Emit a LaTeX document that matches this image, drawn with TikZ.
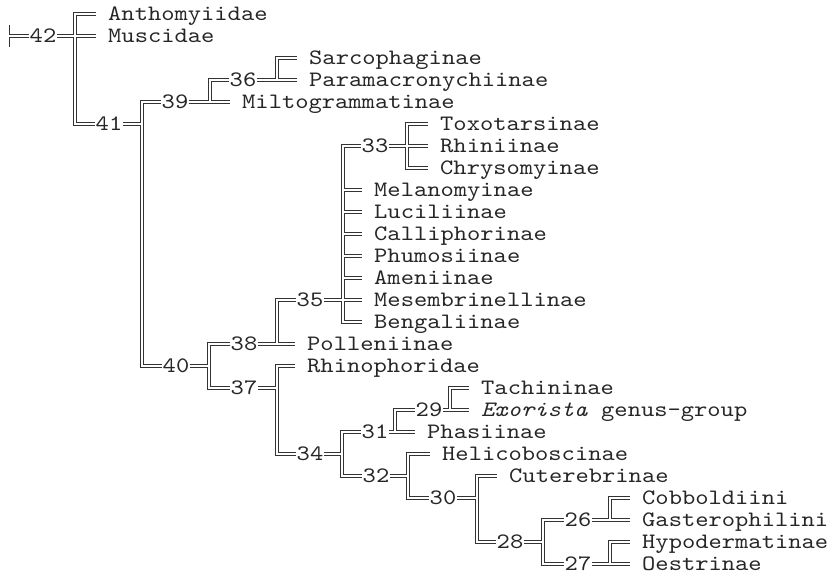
\documentclass[tikz,border=0pt]{standalone}
\usepackage{fontspec}
\newfontfamily\cladefont[ItalicFont=lmmono10-italic.otf, FakeStretch=1.15]{lmmono10-regular.otf}

\tikzset{
  clade/.style={draw=black!80, line width=0.9pt, double=white, double distance=2pt},
  num/.style={font=\cladefont\fontsize{22}{22}\selectfont, text=black!85,
    inner xsep=0.5pt, inner ysep=0pt, text height=13pt, text depth=0pt},
  taxon/.style={num, anchor=west, inner xsep=12pt}
}

\begin{document}
\begin{tikzpicture}[x=1pt, y=-22pt]
    \useasboundingbox (0,-0.636) rectangle (835,25.59);
    % taxa
    \node[taxon] (anth) at (96,0) {Anthomyiidae};
    \node[taxon] (musc) at (96,1) {Muscidae};
    \node[taxon] (sarc) at (297,2) {Sarcophaginae};
    \node[taxon] (para) at (297,3) {Paramacronychiinae};
    \node[taxon] (milt) at (230,4) {Miltogrammatinae};
    \node[taxon] (toxo) at (428,5) {Toxotarsinae};
    \node[taxon] (rhin) at (428,6) {Rhiniinae};
    \node[taxon] (chry) at (428,7) {Chrysomyinae};
    \node[taxon] (mela) at (362,8) {Melanomyinae};
    \node[taxon] (luci) at (362,9) {Luciliinae};
    \node[taxon] (call) at (362,10) {Calliphorinae};
    \node[taxon] (phum) at (362,11) {Phumosiinae};
    \node[taxon] (amen) at (362,12) {Ameniinae};
    \node[taxon] (mese) at (362,13) {Mesembrinellinae};
    \node[taxon] (beng) at (362,14) {Bengaliinae};
    \node[taxon] (poll) at (295,15) {Polleniinae};
    \node[taxon] (rhno) at (295,16) {Rhinophoridae};
    \node[taxon] (tach) at (469,17) {Tachininae};
    \node[taxon] (exor) at (469,18) {\textit{Exorista} genus-group};
    \node[taxon] (phas) at (415,19) {Phasiinae};
    \node[taxon] (heli) at (430,20) {Helicoboscinae};
    \node[taxon] (cute) at (497,21) {Cuterebrinae};
    \node[taxon] (cobb) at (630,22) {Cobboldiini};
    \node[taxon] (gast) at (630,23) {Gasterophilini};
    \node[taxon] (hypo) at (630,24) {Hypodermatinae};
    \node[taxon] (oest) at (630,25) {Oestrinae};
    % node numbers
    \node[num] (n42) at (43,1) {42};
    \node[num] (n41) at (109,5) {41};
    \node[num] (n39) at (175,4) {39};
    \node[num] (n36) at (243,3) {36};
    \node[num] (n33) at (375,6) {33};
    \node[num] (n35) at (310,13) {35};
    \node[num] (n38) at (244,15) {38};
    \node[num] (n40) at (176,16) {40};
    \node[num] (n37) at (244,17) {37};
    \node[num] (n34) at (310,20) {34};
    \node[num] (n31) at (375,19) {31};
    \node[num] (n29) at (429,18) {29};
    \node[num] (n32) at (376,21) {32};
    \node[num] (n30) at (443,22) {30};
    \node[num] (n28) at (510,24) {28};
    \node[num] (n26) at (578,23) {26};
    \node[num] (n27) at (578,25) {27};
    % branch points
    \coordinate (root) at (9,1);
    \coordinate (v42) at (75,1);
    \coordinate (v41) at (142,5);
    \coordinate (v39) at (210,4);
    \coordinate (v36) at (277,3);
    \coordinate (v33) at (407,6);
    \coordinate (v35) at (343,13);
    \coordinate (v38) at (277,15);
    \coordinate (v40) at (209,16);
    \coordinate (v37) at (277,17);
    \coordinate (v34) at (342,20);
    \coordinate (v31) at (395,19);
    \coordinate (v29) at (450,18);
    \coordinate (v32) at (408,21);
    \coordinate (v30) at (477,22);
    \coordinate (v28) at (543,24);
    \coordinate (v26) at (610,23);
    \coordinate (v27) at (610,25);
    % branches
    \draw[black!80, line width=0.9pt] ([yshift=11pt]root) -- ([yshift=-11pt]root);
    \draw[clade] (root) -- (n42.west);
    \draw[clade] (anth.west) -| (v42) |- (n41.west) (n42.east) -- (musc.west);
    \draw[clade] (n39.west) -| (v41) |- (n40.west) (n41.east) -- (v41);
    \draw[clade] (n36.west) -| (v39) (n39.east) -- (milt.west);
    \draw[clade] (sarc.west) -| (v36) (n36.east) -- (para.west);
    \draw[clade] (n35.west) -| (v38) (n38.east) -- (poll.west);
    \draw[clade] (n33.west) -| (v35) |- (beng.west) (n35.east) -- (mese.west)
        (mela.west -| v35) -- (mela.west) (luci.west -| v35) -- (luci.west)
        (call.west -| v35) -- (call.west) (phum.west -| v35) -- (phum.west)
        (amen.west -| v35) -- (amen.west);
    \draw[clade] (toxo.west) -| (v33) |- (chry.west) (n33.east) -- (rhin.west);
    \draw[clade] (n38.west) -| (v40) |- (n37.west) (n40.east) -- (v40);
    \draw[clade] (rhno.west) -| (v37) |- (n34.west) (n37.east) -- (v37);
    \draw[clade] (n31.west) -| (v34) |- (n32.west) (n34.east) -- (v34);
    \draw[clade] (n29.west) -| (v31) (n31.east) -- (phas.west);
    \draw[clade] (tach.west) -| (v29) (n29.east) -- (exor.west);
    \draw[clade] (heli.west) -| (v32) |- (n30.west) (n32.east) -- (v32);
    \draw[clade] (cute.west) -| (v30) |- (n28.west) (n30.east) -- (v30);
    \draw[clade] (n26.west) -| (v28) |- (n27.west) (n28.east) -- (v28);
    \draw[clade] (cobb.west) -| (v26) (n26.east) -- (gast.west);
    \draw[clade] (hypo.west) -| (v27) (n27.east) -- (oest.west);
\end{tikzpicture}
\end{document}
